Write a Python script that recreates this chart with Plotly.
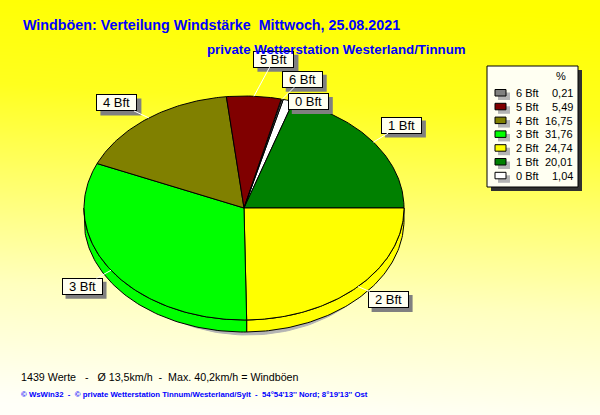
import numpy as np
import plotly.graph_objects as go

# Daten (Anteile in %)
labels = ["0 Bft", "1 Bft", "2 Bft", "3 Bft", "4 Bft", "5 Bft", "6 Bft"]
percent = [1.04, 20.01, 24.74, 31.76, 16.75, 5.49, 0.21]
colors = ["#ffffff", "#008000", "#ffff00", "#00ff00", "#808000", "#800000", "#808080"]

title = "Windböen: Verteilung Windstärke  Mittwoch, 25.08.2021"
subtitle = "private Wetterstation Westerland/Tinnum"
info = "1439 Werte   -   Ø 13,5km/h  -  Max. 40,2km/h = Windböen"
footer = "© WsWin32  -  © private Wetterstation Tinnum/Westerland/Sylt  -  54°54'13'' Nord; 8°19'13'' Ost"

# Beschriftungs-Versatz (Pixel) je Segment
label_dx = [20, 28, 30, -29, -32, 20, 20]
label_dy = [1, -17, 13, 16, -15, -37, -20]

W, H = 600, 415
cx, cy, rx, ry, depth = 244, 208, 160, 112, 12
start = 75.8  # Startwinkel, im Uhrzeigersinn
bw, bh = 41, 17  # Größe der Beschriftungskästen

fig = go.Figure()

# Hintergrundverlauf
gx = np.linspace(0, W, 40)
gy = np.linspace(0, H, 40)
GX, GY = np.meshgrid(gx, gy)
gz = np.clip(GY / H + 0.08 * (1 - GX / W) - 0.04, 0, 1)
fig.add_trace(go.Heatmap(
    x=gx, y=gy, z=gz, zmin=0, zmax=1, zsmooth="best", showscale=False, hoverinfo="skip",
    colorscale=[[0, "#ffff00"], [0.24, "#ffff1e"], [0.48, "#ffff6e"],
                [0.72, "#ffffbe"], [1, "#fffff8"]]))


def ell(t):
    r = np.radians(t)
    return cx + rx * np.cos(r), cy - ry * np.sin(r)


def poly(xs, ys, fill, line="black"):
    fig.add_trace(go.Scatter(x=xs, y=ys, mode="lines", fill="toself", fillcolor=fill,
                             line=dict(color=line, width=1), hoverinfo="skip",
                             showlegend=False))


# Schatten
ts = np.radians(np.linspace(0, 360, 200))
poly(cx + 4 + 150 * np.cos(ts), cy + 9 + 118 * np.sin(ts), "#b4b4b4", "#b4b4b4")

cum = np.concatenate([[0], np.cumsum(percent)])
a0 = start - cum[:-1] * 3.6
a1 = start - cum[1:] * 3.6

# Seitenwand (nur vordere Hälfte sichtbar)
for i in range(len(percent)):
    for lo, hi in [(-540, -360), (-180, 0), (180, 360)]:
        s, e = max(a1[i], lo), min(a0[i], hi)
        if e - s <= 0:
            continue
        t = np.linspace(e, s, 80)
        x, y = ell(t)
        xs = np.concatenate([x, x[::-1], x[:1]])
        ys = np.concatenate([y, y[::-1] + depth, y[:1]])
        poly(xs, ys, colors[i])

# Oberseite
for i in range(len(percent)):
    t = np.linspace(a0[i], a1[i], max(4, int(percent[i] * 4)))
    x, y = ell(t)
    poly(np.concatenate([[cx], x, [cx]]), np.concatenate([[cy], y, [cy]]), colors[i])

ann = []
shapes = []
font_lbl = dict(family="Liberation Sans", size=13, color="black")
# Segmentbeschriftungen mit Schatten
for i in range(len(percent)):
    mid = (a0[i] + a1[i]) / 2
    px, py = ell(mid)
    bx, by = px + label_dx[i], py + label_dy[i]
    shapes.append(dict(type="rect", xref="x", yref="y",
                       x0=bx - bw / 2 + 4, x1=bx + bw / 2 + 4,
                       y0=by - bh / 2 + 4, y1=by + bh / 2 + 4,
                       fillcolor="#808080", line=dict(width=0), layer="above"))
    ann.append(dict(x=px, y=py, xref="x", yref="y", text=labels[i], showarrow=True,
                    arrowhead=0, arrowwidth=1, arrowcolor="white",
                    ax=label_dx[i], ay=label_dy[i], font=font_lbl,
                    width=bw - 4, height=bh - 4,
                    bgcolor="#fffff0", bordercolor="black", borderwidth=1, borderpad=1))

# Legende
shapes += [
    dict(type="rect", xref="x", yref="y", x0=491, y0=70, x1=582, y1=191,
         fillcolor="#303030", line=dict(width=0), layer="above"),
    dict(type="rect", xref="x", yref="y", x0=487, y0=66, x1=578, y1=187,
         fillcolor="#fffff2", line=dict(color="black", width=1), layer="above"),
]
font_leg = dict(family="Liberation Sans", size=11, color="black")
ann.append(dict(x=561, y=76, xref="x", yref="y", text="%", showarrow=False, font=font_leg))
order = list(range(len(percent)))[::-1]
for k, i in enumerate(order):
    yy = 93 + 13.8 * k
    shapes.append(dict(type="rect", xref="x", yref="y", x0=498, y0=yy - 0.5, x1=510, y1=yy + 7,
                       fillcolor="#b4b4b4", line=dict(width=0), layer="above"))
    shapes.append(dict(type="rect", xref="x", yref="y", x0=495, y0=yy - 3.5, x1=506, y1=yy + 3,
                       fillcolor=colors[i], line=dict(color="black", width=1), layer="above"))
    ann.append(dict(x=514, y=yy, xref="x", yref="y", text=labels[i], showarrow=False,
                    xanchor="left", font=font_leg))
    ann.append(dict(x=575, y=yy, xref="x", yref="y", text=f"{percent[i]:.2f}".replace(".", ","),
                    showarrow=False, xanchor="right", font=font_leg))

# Titel und Texte
ann.append(dict(x=21, y=25, xref="x", yref="y", text="<b>" + title + "</b>", showarrow=False,
                xanchor="left", font=dict(family="Liberation Sans", size=14.3, color="#0000ff")))
ann.append(dict(x=205, y=49, xref="x", yref="y", text="<b>" + subtitle + "</b>", showarrow=False,
                xanchor="left", font=dict(family="Liberation Sans", size=13.3, color="#0000ff")))
ann.append(dict(x=19, y=377, xref="x", yref="y", text=info, showarrow=False,
                xanchor="left", font=dict(family="Liberation Sans", size=10.7, color="black")))
ann.append(dict(x=19, y=394, xref="x", yref="y", text="<b>" + footer + "</b>", showarrow=False,
                xanchor="left", font=dict(family="Liberation Sans", size=7.8, color="#0000ff")))

fig.update_layout(
    width=W, height=H, margin=dict(l=0, r=0, t=0, b=0),
    paper_bgcolor="#ffff80", plot_bgcolor="#ffff80", showlegend=False,
    xaxis=dict(range=[0, W], visible=False, fixedrange=True),
    yaxis=dict(range=[H, 0], visible=False, fixedrange=True),
    annotations=ann, shapes=shapes,
)

fig.write_html("out.html", config={"displayModeBar": False},
               post_script="document.body.style.margin='0px';")
